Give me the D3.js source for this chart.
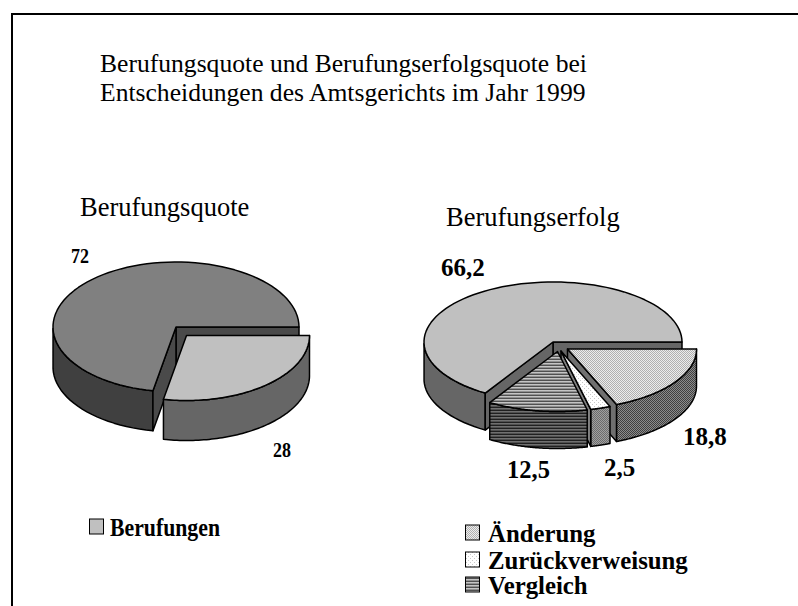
<!DOCTYPE html>
<html>
<head>
<meta charset="utf-8">
<script src="https://cdnjs.cloudflare.com/ajax/libs/d3/7.8.5/d3.min.js"></script>
<style>
html, body { margin: 0; padding: 0; background: #fff; overflow: hidden; }
svg { display: block; }
text { font-family: "Liberation Serif", serif; fill: #000; }
</style>
</head>
<body>
<div id="chart"></div>
<script>
// Data
const quoteLabels = ["Berufungen", "Rest"];
const quoteValues = [28, 72];
const erfolgLabels = ["Änderung", "Zurückverweisung", "Vergleich", "Rest"];
const erfolgValues = [18.8, 2.5, 12.5, 66.2];
const titleLines = [
    "Berufungsquote und Berufungserfolgsquote bei",
    "Entscheidungen des Amtsgerichts im Jahr 1999"
];

const svg = d3.select("#chart")
    .append("svg")
    .attr("width", 798)
    .attr("height", 606);

const defs = svg.append("defs");

// Dot and stripe fills for the right pie
function dots(id, bg, fg, step, size) {
    const p = defs.append("pattern").attr("id", id)
        .attr("width", step).attr("height", step)
        .attr("patternUnits", "userSpaceOnUse");
    p.append("rect").attr("width", step).attr("height", step).attr("fill", bg);
    p.append("rect").attr("width", size).attr("height", size).attr("fill", fg);
    p.append("rect").attr("x", step / 2).attr("y", step / 2)
        .attr("width", size).attr("height", size).attr("fill", fg);
}
function stripes(id, c1, c2, c3) {
    const p = defs.append("pattern").attr("id", id)
        .attr("width", 4).attr("height", 3)
        .attr("patternUnits", "userSpaceOnUse");
    [c1, c2, c3].forEach((c, i) => {
        p.append("rect").attr("y", i).attr("width", 4).attr("height", 1).attr("fill", c);
    });
}
dots("aenderTop", "#ececec", "#b0b0b0", 2, 1);
dots("aenderSide", "#8c8c8c", "#404040", 2, 1);
dots("zurueckTop", "#ffffff", "#c8c8c8", 4, 1);
dots("zurueckSide", "#a0a0a0", "#6c6c6c", 2, 1);
stripes("vergleichTop", "#c4c4c4", "#909090", "#505050");
stripes("vergleichSide", "#707070", "#505050", "#202020");

// Page frame: only the left and top edges are in the picture
svg.append("path")
    .attr("d", d3.line()([[12, 606], [12, 14], [798, 14]]))
    .attr("fill", "none")
    .attr("stroke", "#000")
    .attr("stroke-width", 2);

svg.selectAll(".title")
    .data(titleLines)
    .join("text")
    .attr("class", "title")
    .attr("x", 100)
    .attr("y", (d, i) => 72 + i * 29)
    .style("font-size", "25.6px")
    .text(d => d);

// Pie angles: 0 is east, going clockwise on screen
const pieAngles = d3.pie().sort(null).startAngle(0).endAngle(2 * Math.PI);

// One tilted slice. Top face, outer wall and the cut walls
function drawSlice(g, pie, s, style, off) {
    const cx = pie.cx + off[0], cy = pie.cy + off[1];
    const px = a => cx + pie.rx * Math.cos(a);
    const py = a => cy + pie.ry * Math.sin(a);
    const rim = d3.range(0, 81).map(i => s.startAngle + (s.endAngle - s.startAngle) * i / 80);
    const line = d3.line();
    const edge = sel => sel.attr("stroke", "#000").attr("stroke-width", 1.5).attr("stroke-linejoin", "round");

    // outer wall, only the front half can be seen
    const vis = rim.filter(a => a <= Math.PI);
    if (vis.length > 1) {
        const ring = vis.map(a => [px(a), py(a)])
            .concat(vis.slice().reverse().map(a => [px(a), py(a) + pie.depth]));
        g.append("path").attr("d", line(ring) + "Z").attr("fill", style.side).call(edge);
    }
    // walls along the cuts
    (style.cuts || []).forEach(a => {
        const q = [[cx, cy], [px(a), py(a)], [px(a), py(a) + pie.depth], [cx, cy + pie.depth]];
        g.append("path").attr("d", line(q) + "Z").attr("fill", style.cut).call(edge);
    });
    const top = [[cx, cy]].concat(rim.map(a => [px(a), py(a)]));
    g.append("path").attr("d", line(top) + "Z").attr("fill", style.top).call(edge);
}

// Left pie
const pieLeft = {cx: 176, cy: 327, rx: 123, ry: 65, depth: 40};
const gLeft = svg.append("g");
const arcsLeft = pieAngles(quoteValues);
drawSlice(gLeft, pieLeft, arcsLeft[1],
    {top: "#808080", side: "#404040", cut: "#4a4a4a", cuts: [0, arcsLeft[1].startAngle]}, [0, 0]);
drawSlice(gLeft, pieLeft, arcsLeft[0], {top: "#c0c0c0", side: "#666666"}, [10.5, 8.5]);

// Right pie, painted from the east slice towards the west one
const pieRight = {cx: 553, cy: 342, rx: 129, ry: 60, depth: 37};
const gRight = svg.append("g");
const arcsRight = pieAngles(erfolgValues);
drawSlice(gRight, pieRight, arcsRight[3],
    {top: "#c0c0c0", side: "#666666", cut: "#666666", cuts: [0, arcsRight[3].startAngle]}, [0, 0]);
drawSlice(gRight, pieRight, arcsRight[0],
    {top: "url(#aenderTop)", side: "url(#aenderSide)", cut: "#707070", cuts: [arcsRight[0].endAngle]}, [14.5, 7]);
drawSlice(gRight, pieRight, arcsRight[1],
    {top: "url(#zurueckTop)", side: "url(#zurueckSide)", cut: "#808080", cuts: [arcsRight[1].endAngle]}, [8, 9]);
drawSlice(gRight, pieRight, arcsRight[2],
    {top: "url(#vergleichTop)", side: "url(#vergleichSide)"}, [4.5, 9.5]);

// Pie headings
svg.append("text").attr("x", 80).attr("y", 216).style("font-size", "26.5px").text("Berufungsquote");
svg.append("text").attr("x", 446).attr("y", 226).style("font-size", "26.5px").text("Berufungserfolg");

// Value labels. The two on the left pie are squeezed in the original
const valueLabels = [
    {t: quoteValues[1], x: 71, y: 263, s: 22, w: 18},
    {t: quoteValues[0], x: 273, y: 457, s: 22, w: 18},
    {t: erfolgValues[3], x: 441, y: 276, s: 25},
    {t: erfolgValues[0], x: 683, y: 445, s: 25},
    {t: erfolgValues[2], x: 507, y: 478, s: 24.5},
    {t: erfolgValues[1], x: 604, y: 476, s: 25}
];
svg.selectAll(".value")
    .data(valueLabels)
    .join("text")
    .attr("class", "value")
    .attr("x", d => d.x)
    .attr("y", d => d.y)
    .attr("textLength", d => d.w || null)
    .attr("lengthAdjust", d => d.w ? "spacingAndGlyphs" : null)
    .style("font-size", d => d.s + "px")
    .style("font-weight", "bold")
    .text(d => String(d.t).replace(".", ","));

// Legends
function legendRow(x, y, label, fill, size, textX, squeeze) {
    svg.append("rect").attr("x", x).attr("y", y - 17).attr("width", 14).attr("height", 15)
        .attr("fill", fill).attr("stroke", "#000").attr("stroke-width", 1);
    svg.append("text").attr("x", textX).attr("y", y)
        .attr("textLength", squeeze || null)
        .attr("lengthAdjust", squeeze ? "spacingAndGlyphs" : null)
        .style("font-size", size + "px").style("font-weight", "bold").text(label);
}
legendRow(89.5, 536, quoteLabels[0], "#c0c0c0", 26, 110, 110);
legendRow(465.5, 542, erfolgLabels[0], "url(#aenderTop)", 24.8, 488);
legendRow(465.5, 569, erfolgLabels[1], "url(#zurueckTop)", 24.8, 488);
legendRow(465.5, 594, erfolgLabels[2], "url(#vergleichTop)", 24.8, 488);
</script>
</body>
</html>
